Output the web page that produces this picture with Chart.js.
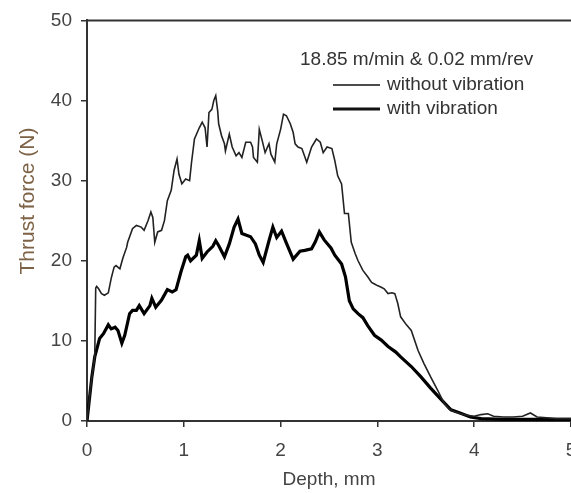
<!DOCTYPE html>
<html>
<head>
<meta charset="utf-8">
<script src="https://cdn.jsdelivr.net/npm/chart.js@4"></script>
<style>
html, body { margin:0; padding:0; background:#fff; overflow:hidden; }
</style>
</head>
<body>
<canvas id="thrust" width="571" height="493"></canvas>
<script>
// values
var depth_no_vib = [0, 0.04, 0.08, 0.09, 0.10, 0.12, 0.15, 0.18, 0.22, 0.25, 0.28, 0.30, 0.34, 0.37, 0.41, 0.42, 0.47, 0.51, 0.56, 0.59,
    0.63, 0.66, 0.68, 0.70, 0.73, 0.77, 0.80, 0.83, 0.87, 0.90, 0.93, 0.95, 0.98, 1.02, 1.06, 1.08, 1.11, 1.16, 1.19, 1.22,
    1.24, 1.26, 1.29, 1.31, 1.33, 1.35, 1.36, 1.39, 1.42, 1.43, 1.47, 1.50, 1.54, 1.57, 1.60, 1.64, 1.69, 1.71, 1.72, 1.76,
    1.78, 1.81, 1.84, 1.88, 1.90, 1.94, 1.96, 2.00, 2.03, 2.06, 2.10, 2.13, 2.15, 2.18, 2.22, 2.27, 2.32, 2.37, 2.41, 2.44,
    2.48, 2.53, 2.56, 2.59, 2.63, 2.66, 2.70, 2.73, 2.77, 2.80, 2.85, 2.90, 2.94, 2.97, 3.00, 3.04, 3.07, 3.11, 3.15, 3.18,
    3.21, 3.24, 3.30, 3.35, 3.42, 3.48, 3.55, 3.62, 3.69, 3.74, 3.79, 3.86, 3.93, 4.00, 4.07, 4.14, 4.20, 4.30, 4.40, 4.50,
    4.58, 4.65, 4.75, 4.85, 5.00];
var force_no_vib = [0, 4.5, 8.0, 16.6, 16.8, 16.5, 15.9, 15.7, 16.0, 17.8, 19.2, 19.4, 19.0, 20.3, 21.7, 22.3, 24.0, 24.4, 24.2, 23.8,
    25.0, 26.1, 25.4, 22.3, 23.6, 23.8, 25.0, 27.5, 28.8, 31.3, 32.7, 30.8, 29.6, 30.2, 30.0, 32.3, 35.2, 36.6, 37.3, 36.6,
    34.2, 38.5, 38.9, 40.0, 40.6, 38.7, 37.1, 35.6, 34.6, 33.7, 35.8, 34.2, 33.1, 33.5, 32.9, 34.8, 34.8, 34.2, 32.9, 32.3,
    36.4, 35.0, 33.5, 34.6, 33.3, 32.3, 34.6, 36.4, 38.3, 38.1, 37.1, 36.0, 34.6, 34.2, 34.0, 32.3, 34.2, 35.2, 34.8, 33.5,
    34.2, 34.0, 32.5, 30.6, 29.6, 25.9, 25.9, 22.3, 20.9, 20.0, 18.8, 18.0, 17.3, 17.1, 16.9, 16.7, 16.5, 15.9, 16.0, 15.9,
    14.7, 13.0, 12.0, 11.3, 8.8, 7.2, 5.5, 3.9, 2.2, 1.5, 1.2, 0.9, 0.7, 0.6, 0.8, 0.9, 0.6, 0.5, 0.5, 0.6,
    1.0, 0.5, 0.4, 0.3, 0.3];

var depth_vib = [0, 0.05, 0.08, 0.13, 0.17, 0.22, 0.25, 0.29, 0.32, 0.36, 0.39, 0.44, 0.47, 0.51, 0.54, 0.59, 0.65, 0.67, 0.71, 0.77,
    0.83, 0.88, 0.92, 0.97, 1.02, 1.04, 1.07, 1.13, 1.16, 1.19, 1.24, 1.30, 1.33, 1.36, 1.42, 1.47, 1.52, 1.56, 1.60, 1.69,
    1.74, 1.78, 1.82, 1.88, 1.92, 1.96, 2.01, 2.06, 2.13, 2.20, 2.25, 2.32, 2.36, 2.40, 2.45, 2.52, 2.56, 2.63, 2.67, 2.71,
    2.75, 2.80, 2.85, 2.90, 2.97, 3.04, 3.11, 3.19, 3.24, 3.35, 3.45, 3.55, 3.65, 3.76, 3.86, 3.96, 4.07, 4.30, 4.60, 5.00];
var force_vib = [0, 5.5, 8.0, 10.3, 10.9, 12.0, 11.5, 11.7, 11.3, 9.7, 10.7, 13.4, 13.8, 13.8, 14.4, 13.4, 14.4, 15.3, 14.2, 15.1,
    16.4, 16.1, 16.4, 18.6, 20.5, 20.7, 20.0, 20.7, 22.5, 20.3, 21.1, 21.8, 22.5, 21.9, 20.5, 22.1, 24.2, 25.2, 23.4, 23.0,
    22.1, 20.7, 19.8, 22.5, 24.2, 22.9, 23.7, 22.2, 20.2, 21.2, 21.3, 21.5, 22.4, 23.6, 22.6, 21.6, 20.7, 19.6, 18.0, 15.0,
    14.0, 13.4, 12.9, 11.9, 10.7, 10.1, 9.3, 8.6, 8.0, 6.8, 5.5, 4.1, 2.8, 1.4, 0.96, 0.5, 0.3, 0.2, 0.2, 0.2];

var x_ticks = [0, 1, 2, 3, 4, 5];
var y_ticks = [0, 10, 20, 30, 40, 50];
var legend_title = '18.85 m/min & 0.02 mm/rev';
var series_names = ['without vibration', 'with vibration'];
var series_widths = [1.6, 3.2];

var font_family = '"Liberation Sans", Arial, sans-serif';

function to_points(xs, ys){
    var pts = [];
    for(var i = 0; i < xs.length; i++){
        pts.push({x: xs[i], y: ys[i]});
    }
    return pts;
}

// frame top line, rotated y title and the in-plot legend
var extras = {
    id: 'extras',
    afterDraw: function(chart){
        var ctx = chart.ctx;
        var area = chart.chartArea;
        ctx.save();
        ctx.strokeStyle = '#333';
        ctx.lineWidth = 2;
        ctx.beginPath();
        ctx.moveTo(area.left - 1, area.top);
        ctx.lineTo(chart.width, area.top);
        ctx.stroke();

        ctx.fillStyle = '#7d6245';
        ctx.font = '21px ' + font_family;
        ctx.textAlign = 'center';
        ctx.textBaseline = 'middle';
        ctx.translate(28, 201);
        ctx.rotate(-Math.PI / 2);
        ctx.fillText('Thrust force (N)', 0, 0);
        ctx.restore();

        ctx.save();
        ctx.fillStyle = '#333';
        ctx.font = '19px ' + font_family;
        ctx.textAlign = 'left';
        ctx.textBaseline = 'middle';
        ctx.fillText(legend_title, 300, 60);
        for(var k = 0; k < series_names.length; k++){
            var ly = 85 + k * 24;
            ctx.strokeStyle = '#111';
            ctx.lineWidth = series_widths[k];
            ctx.beginPath();
            ctx.moveTo(333, ly);
            ctx.lineTo(380, ly);
            ctx.stroke();
            ctx.fillText(series_names[k], 387, ly);
        }
        ctx.restore();
    }
};

var ctx = document.getElementById('thrust');
new Chart(ctx, {
    type: 'line',
    data: {
        datasets: [
            {
                label: series_names[0],
                data: to_points(depth_no_vib, force_no_vib),
                borderColor: '#222',
                borderWidth: series_widths[0],
                pointRadius: 0,
                tension: 0
            },
            {
                label: series_names[1],
                data: to_points(depth_vib, force_vib),
                borderColor: '#000',
                borderWidth: series_widths[1],
                pointRadius: 0,
                tension: 0
            }
        ]
    },
    options: {
        responsive: false,
        animation: false,
        // the x axis runs a little past the right edge of the picture
        layout: { padding: { top: 19, right: -3.5, left: 0, bottom: 0 } },
        plugins: {
            legend: { display: false },
            tooltip: { enabled: false }
        },
        scales: {
            x: {
                type: 'linear',
                min: 0,
                max: 5,
                afterBuildTicks: function(scale){
                    scale.ticks = x_ticks.map(function(v){ return {value: v}; });
                },
                afterFit: function(scale){
                    scale.height = 72;
                    scale.paddingRight = 0;
                    scale.paddingLeft = 0;
                },
                border: { color: '#333', width: 2 },
                grid: { drawOnChartArea: false, tickLength: 6, color: '#333', lineWidth: 1.5 },
                ticks: { color: '#444', padding: 12, maxRotation: 0, font: { size: 19, family: font_family } },
                title: {
                    display: true,
                    text: 'Depth, mm',
                    color: '#444',
                    font: { size: 19, family: font_family },
                    padding: { top: 0, bottom: 2 }
                }
            },
            y: {
                min: 0,
                max: 50,
                afterBuildTicks: function(scale){
                    scale.ticks = y_ticks.map(function(v){ return {value: v}; });
                },
                afterFit: function(scale){ scale.width = 87; },
                border: { color: '#333', width: 2 },
                grid: { drawOnChartArea: false, tickLength: 6, color: '#333', lineWidth: 1.5 },
                ticks: { color: '#444', padding: 9, font: { size: 19, family: font_family } }
            }
        }
    },
    plugins: [extras]
});
</script>
</body>
</html>
